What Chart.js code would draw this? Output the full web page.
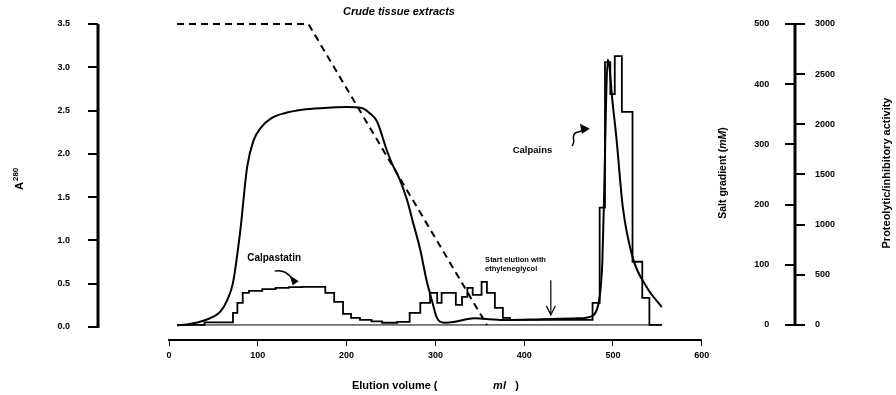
<!DOCTYPE html>
<html>
<head>
<meta charset="utf-8">
<title>Crude tissue extracts</title>
<script src="https://cdn.jsdelivr.net/npm/chart.js@4.4.1/dist/chart.umd.min.js"></script>
<style>
  html, body { margin: 0; padding: 0; background: #fff; }
  #wrap { width: 896px; height: 395px; }
</style>
</head>
<body>
<div id="wrap"><canvas id="elution" width="896" height="395"></canvas></div>
<script>
// A280 absorbance along the elution (ml)
const a280Volume = [9, 20, 35, 50, 58, 65, 72, 80, 88, 95, 104, 115, 130, 150, 175, 200, 217, 226, 234, 245,
  251, 260, 268, 275, 283, 290, 296, 302, 310, 322, 335, 345, 360, 380, 420, 460, 475, 481, 485, 488,
  490, 492, 494, 496, 499, 504, 511, 522, 538, 555];
const a280Values = [0.02, 0.03, 0.06, 0.12, 0.18, 0.30, 0.51, 1.09, 1.85, 2.15, 2.31, 2.41, 2.47, 2.51, 2.53, 2.54, 2.53, 2.47, 2.38, 2.05,
  1.89, 1.70, 1.47, 1.20, 0.89, 0.54, 0.31, 0.10, 0.05, 0.06, 0.09, 0.10, 0.09, 0.08, 0.09, 0.10, 0.12, 0.18, 0.35, 0.75,
  1.50, 2.50, 3.09, 3.00, 2.65, 2.17, 1.39, 0.81, 0.46, 0.23];

// salt gradient (mM)
const saltVolume = [9, 157, 358];
const saltValues = [500, 500, 0];

// proteolytic / inhibitory activity per fraction (value holds from its volume to the next one)
const activityVolume = [9, 40, 72, 77, 83, 90, 105, 120, 135, 150, 176, 186, 196, 205, 215, 228, 240, 257, 271, 283,
  294, 302, 307, 323, 330, 336, 342, 352, 358, 367, 376, 384, 477, 485, 491, 497, 502, 510, 522, 533, 541, 555];
const activityValues = [0, 25, 120, 220, 320, 340, 358, 370, 378, 380, 320, 230, 110, 70, 50, 35, 22, 30, 120, 220,
  320, 220, 320, 200, 280, 370, 300, 430, 320, 170, 70, 50, 220, 1170, 2620, 2300, 2680, 2124, 630, 270, 0, 0];

// zero line under the fractions
const baselineVolume = [9, 555];
const baselineValues = [0, 0];

// axis ticks
const volumeTicks = [0, 100, 200, 300, 400, 500, 600];
const a280Ticks = [0, 0.5, 1, 1.5, 2, 2.5, 3, 3.5];
const saltTicks = [0, 100, 200, 300, 400, 500];
const activityTicks = [0, 500, 1000, 1500, 2000, 2500, 3000];

const FAMILY = '"Liberation Sans", Arial, Helvetica, sans-serif';
Chart.defaults.font.family = FAMILY;
Chart.defaults.color = '#000';

function toPoints(xs, ys) {
  return xs.map((v, i) => ({x: v, y: ys[i]}));
}

function fixTicks(list) {
  return function (scale) {
    scale.ticks = list.map(v => ({value: v}));
  };
}

function line(ctx, x1, y1, x2, y2) {
  ctx.beginPath();
  ctx.moveTo(x1, y1);
  ctx.lineTo(x2, y2);
  ctx.stroke();
}

function text(ctx, str, x, y, font, align) {
  ctx.font = font;
  ctx.textAlign = align || 'left';
  ctx.textBaseline = 'middle';
  ctx.fillText(str, x, y);
}

// spines, axis titles and the little labelled arrows
const decorations = {
  id: 'decorations',
  afterDraw(chart) {
    const {ctx, chartArea, scales} = chart;
    const x = scales.x, yA = scales.yA, ySalt = scales.ySalt;
    const at = (ml, a) => [x.getPixelForValue(ml), yA.getPixelForValue(a)];

    ctx.save();
    ctx.strokeStyle = '#000';
    ctx.fillStyle = '#000';

    ctx.lineWidth = 3;
    line(ctx, chartArea.left, yA.getPixelForValue(3.5), chartArea.left, yA.getPixelForValue(0) + 1);
    line(ctx, chartArea.right, ySalt.getPixelForValue(500), chartArea.right, ySalt.getPixelForValue(0) + 1);
    ctx.lineWidth = 2;
    line(ctx, x.getPixelForValue(0) - 1, chartArea.bottom, x.getPixelForValue(600), chartArea.bottom);

    // title
    text(ctx, 'Crude tissue extracts', x.getPixelForValue(259), 12, 'italic bold 11px ' + FAMILY, 'center');

    // x axis title
    const ty = chartArea.bottom + 46;
    text(ctx, 'Elution volume (', x.getPixelForValue(206), ty, 'bold 11px ' + FAMILY);
    text(ctx, 'ml', x.getPixelForValue(365), ty, 'italic bold 11px ' + FAMILY);
    text(ctx, ')', x.getPixelForValue(390), ty, 'bold 11px ' + FAMILY);

    // A280, rotated
    ctx.save();
    ctx.translate(23, 190);
    ctx.rotate(-Math.PI / 2);
    ctx.font = 'bold 11px ' + FAMILY;
    ctx.textAlign = 'left';
    ctx.textBaseline = 'alphabetic';
    ctx.fillText('A', 0, 0);
    const aw = ctx.measureText('A').width;
    ctx.font = 'bold 8px ' + FAMILY;
    ctx.fillText('280', aw + 1, -5);
    ctx.restore();

    // salt gradient title
    ctx.save();
    ctx.translate(723, 173);
    ctx.rotate(-Math.PI / 2);
    const runs = [['Salt gradient (', 'bold'], ['mM', 'italic bold'], [')', 'bold']];
    let total = 0;
    runs.forEach(r => { ctx.font = r[1] + ' 10.5px ' + FAMILY; total += ctx.measureText(r[0]).width; });
    let cx = -total / 2;
    ctx.textBaseline = 'middle';
    ctx.textAlign = 'left';
    runs.forEach(r => {
      ctx.font = r[1] + ' 10.5px ' + FAMILY;
      ctx.fillText(r[0], cx, 0);
      cx += ctx.measureText(r[0]).width;
    });
    ctx.restore();

    // activity title
    ctx.save();
    ctx.translate(887, 173);
    ctx.rotate(-Math.PI / 2);
    text(ctx, 'Proteolytic/inhibitory activity', 0, 0, 'bold 11px ' + FAMILY, 'center');
    ctx.restore();

    // Calpastatin label + curly arrow
    let p = at(88, 0.79);
    text(ctx, 'Calpastatin', p[0], p[1], 'bold 10px ' + FAMILY);
    p = at(146, 0.53);
    ctx.lineWidth = 1.5;
    ctx.beginPath();
    ctx.moveTo(p[0] - 24, p[1] - 10);
    ctx.bezierCurveTo(p[0] - 15, p[1] - 12, p[0] - 10, p[1] - 7, p[0] - 6, p[1] - 2);
    ctx.stroke();
    ctx.beginPath();
    ctx.moveTo(p[0], p[1]);
    ctx.lineTo(p[0] - 9, p[1] - 6);
    ctx.lineTo(p[0] - 6, p[1] + 4);
    ctx.closePath();
    ctx.fill();

    // Calpains label + squiggle
    p = at(387, 2.04);
    text(ctx, 'Calpains', p[0], p[1], 'bold 9.5px ' + FAMILY);
    p = at(474, 2.29);
    ctx.beginPath();
    ctx.moveTo(p[0] - 18, p[1] + 17);
    ctx.bezierCurveTo(p[0] - 13, p[1] + 13, p[0] - 20, p[1] + 7, p[0] - 14, p[1] + 4);
    ctx.lineTo(p[0] - 8, p[1] + 2);
    ctx.stroke();
    ctx.beginPath();
    ctx.moveTo(p[0], p[1]);
    ctx.lineTo(p[0] - 10, p[1] - 5);
    ctx.lineTo(p[0] - 8, p[1] + 5);
    ctx.closePath();
    ctx.fill();

    // ethylene glycol start
    p = at(356, 0.774);
    text(ctx, 'Start elution with', p[0], p[1], 'bold 7.5px ' + FAMILY);
    p = at(356, 0.67);
    text(ctx, 'ethyleneglycol', p[0], p[1], 'bold 7.5px ' + FAMILY);
    const top = at(430, 0.54), tip = at(430, 0.14);
    ctx.lineWidth = 1.2;
    line(ctx, top[0], top[1], tip[0], tip[1]);
    ctx.beginPath();
    ctx.moveTo(tip[0] - 4.5, tip[1] - 9);
    ctx.lineTo(tip[0], tip[1]);
    ctx.lineTo(tip[0] + 4.5, tip[1] - 9);
    ctx.stroke();

    ctx.restore();
  }
};

const tickFont = {family: FAMILY, size: 9, weight: 'bold'};

new Chart(document.getElementById('elution'), {
  type: 'line',
  data: {
    datasets: [
      {
        label: 'baseline',
        data: toPoints(baselineVolume, baselineValues),
        yAxisID: 'yAct',
        borderWidth: 1
      },
      {
        label: 'Proteolytic/inhibitory activity',
        data: toPoints(activityVolume, activityValues),
        yAxisID: 'yAct',
        stepped: 'before',
        borderWidth: 1.8
      },
      {
        label: 'A280',
        data: toPoints(a280Volume, a280Values),
        yAxisID: 'yA',
        cubicInterpolationMode: 'monotone',
        borderWidth: 2
      },
      {
        label: 'Salt gradient',
        data: toPoints(saltVolume, saltValues),
        yAxisID: 'ySalt',
        borderDash: [7, 5],
        borderWidth: 2
      }
    ]
  },
  options: {
    responsive: false,
    animation: false,
    devicePixelRatio: 1,
    layout: {padding: {left: 57, right: 51, top: 24, bottom: 25}},
    plugins: {
      legend: {display: false},
      tooltip: {enabled: false},
      title: {display: false}
    },
    elements: {
      point: {radius: 0},
      line: {borderColor: '#000', fill: false}
    },
    datasets: {line: {clip: false}},
    scales: {
      x: {
        type: 'linear',
        position: 'bottom',
        min: -80,
        max: 705,
        afterBuildTicks: fixTicks(volumeTicks),
        afterFit: s => { s.height = 30; },
        border: {display: false},
        grid: {drawOnChartArea: false, tickLength: 6, color: '#000', lineWidth: 1},
        ticks: {font: tickFont, color: '#000', padding: 4, maxRotation: 0, callback: v => String(v)}
      },
      yA: {
        type: 'linear',
        position: 'left',
        min: -0.15,
        max: 3.5,
        afterBuildTicks: fixTicks(a280Ticks),
        afterFit: s => { s.width = 41; },
        border: {display: false},
        grid: {drawOnChartArea: false, tickLength: 10, color: '#000', lineWidth: 2},
        ticks: {font: tickFont, color: '#000', padding: 18, callback: v => v.toFixed(1)}
      },
      // salt ticks sit on the right spine and point inwards
      ySalt: {
        type: 'linear',
        axis: 'y',
        position: {x: 705},
        min: -25,
        max: 500,
        afterBuildTicks: fixTicks(saltTicks),
        border: {display: false},
        grid: {drawOnChartArea: false, tickLength: 10, color: '#000', lineWidth: 2},
        ticks: {display: false}
      },
      // salt tick labels, right-aligned a little inside the spine
      ySaltLabels: {
        type: 'linear',
        axis: 'y',
        position: {x: 676},
        min: -25,
        max: 500,
        afterBuildTicks: fixTicks(saltTicks),
        border: {display: false},
        grid: {display: false, drawTicks: false},
        ticks: {font: tickFont, color: '#000', padding: 0, callback: v => String(v)}
      },
      yAct: {
        type: 'linear',
        position: 'right',
        min: -150,
        max: 3000,
        afterBuildTicks: fixTicks(activityTicks),
        afterFit: s => { s.width = 50; },
        border: {display: false},
        grid: {drawOnChartArea: false, tickLength: 10, color: '#000', lineWidth: 2},
        ticks: {font: tickFont, color: '#000', padding: 10, callback: v => String(v)}
      }
    }
  },
  plugins: [decorations]
});
</script>
</body>
</html>
